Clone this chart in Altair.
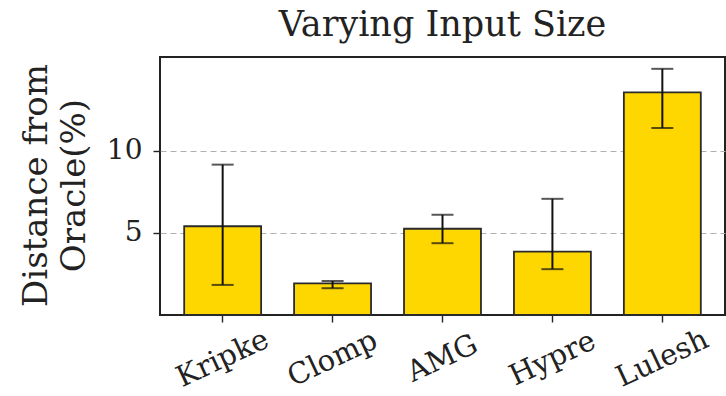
import altair as alt
import pandas as pd

apps = ["Kripke", "Clomp", "AMG", "Hypre", "Lulesh"]
means = [5.4, 1.93, 5.25, 3.86, 13.55]
err_lo = [1.83, 1.63, 4.37, 2.79, 11.38]
err_hi = [9.15, 2.07, 6.10, 7.07, 14.98]
y_ticks = [5, 10]

df = pd.DataFrame({"app": apps, "mean": means, "lo": err_lo, "hi": err_hi})

FONT = "DejaVu Serif"
INK = "#222222"

x_enc = alt.X(
    "app:N",
    sort=apps,
    scale=alt.Scale(paddingInner=0.3, paddingOuter=0.22),
    axis=alt.Axis(
        title=None,
        labelAngle=-25,
        labelAlign="center",
        labelBaseline="middle",
        labelPadding=36,
        labelFontSize=29,
        labelFont=FONT,
        labelColor=INK,
        tickSize=7,
        tickColor=INK,
        tickWidth=1.4,
        domain=False,
        grid=False,
    ),
)

y_scale = alt.Scale(domain=[0, 15.7], nice=False, zero=True)

y_axis = alt.Axis(
    title=["Distance from", "Oracle(%)"],
    titleFont=FONT,
    titleFontSize=34,
    titleFontWeight="normal",
    titleColor=INK,
    titleLineHeight=38,
    titleAngle=270,
    titleAlign="center",
    titleBaseline="top",
    titleX=-141,
    titleY=128,
    values=y_ticks,
    labelFont=FONT,
    labelFontSize=28,
    labelColor=INK,
    labelPadding=11,
    tickSize=7,
    tickColor=INK,
    tickWidth=1.4,
    domain=False,
    grid=True,
    gridDash=[6, 4],
    gridColor="#b0b0b0",
    gridWidth=1.2,
)

bars = alt.Chart(df).mark_bar(
    color="#FFD700", stroke="#2a2a2a", strokeWidth=1.8
).encode(
    x=x_enc,
    y=alt.Y("mean:Q", scale=y_scale, axis=y_axis),
)

rules = alt.Chart(df).mark_rule(color="#111111", strokeWidth=2).encode(
    x=alt.X("app:N", sort=apps),
    y=alt.Y("lo:Q"),
    y2="hi:Q",
)

caps_lo = alt.Chart(df).mark_tick(color="#111111", thickness=2, size=22).encode(
    x=alt.X("app:N", sort=apps),
    y=alt.Y("lo:Q"),
)
caps_hi = alt.Chart(df).mark_tick(color="#111111", thickness=2, size=22).encode(
    x=alt.X("app:N", sort=apps),
    y=alt.Y("hi:Q"),
)

chart = (
    alt.layer(bars, rules, caps_lo, caps_hi)
    .properties(
        width=565,
        height=258,
        background="white",
        title=alt.Title(
            "Varying Input Size",
            font=FONT,
            fontSize=35,
            fontWeight="normal",
            color=INK,
            anchor="middle",
            offset=14,
        ),
        autosize=alt.AutoSizeParams(type="none"),
        padding={"left": 160, "top": 57, "right": 1, "bottom": 81},
    )
    .configure_view(stroke="#222222", strokeWidth=2)
)

chart.save("out.html", embed_options={"renderer": "svg", "actions": False})
